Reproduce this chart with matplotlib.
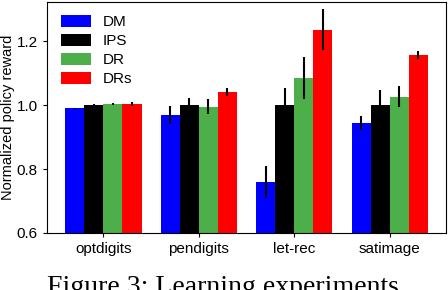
import numpy as np
import matplotlib.pyplot as plt

plt.rcParams['font.family'] = ['Liberation Sans', 'DejaVu Sans']

datasets = ['optdigits', 'pendigits', 'let-rec', 'satimage']
methods = ['DM', 'IPS', 'DR', 'DRs']
colors = ['#0000ff', '#000000', '#4daf4a', '#ff0000']

# mean normalized reward per method (rows) and dataset (cols)
means = [
    [0.990, 0.970, 0.760, 0.944],   # DM
    [1.000, 1.000, 1.000, 1.000],   # IPS
    [1.003, 0.996, 1.086, 1.027],   # DR
    [1.004, 1.042, 1.237, 1.157],   # DRs
]
errs = [
    [0.002, 0.028, 0.050, 0.022],
    [0.003, 0.022, 0.053, 0.047],
    [0.003, 0.023, 0.065, 0.032],
    [0.005, 0.012, 0.063, 0.012],
]

fig = plt.figure(figsize=(4.48, 2.90), dpi=100)
ax = fig.add_axes([47/448, 57/290, 399/448, 231.5/290])

x = np.arange(len(datasets))
w = 0.2
for i, m in enumerate(methods):
    ax.bar(x + (i - 1.5) * w, means[i], w, color=colors[i], label=m,
           yerr=errs[i], error_kw=dict(ecolor='black', elinewidth=1.5, capsize=0))

ax.set_ylim(0.6, 1.325)
ax.set_yticks([0.6, 0.8, 1.0, 1.2])
ax.set_xticks(x)
ax.set_xticklabels(datasets)
ax.tick_params(labelsize=11, length=3)
ax.set_ylabel('Normalized policy reward', fontsize=10.5, labelpad=1)
ax.legend(loc='upper left', frameon=False, fontsize=11, handlelength=2.0,
          handleheight=0.75, labelspacing=0.33, handletextpad=0.75,
          borderaxespad=0.5)

# caption sits at the bottom edge, partly cut off as in the source crop
fig.text(47/448, 15/290, 'Figure 3: Learning experiments', family='Liberation Serif',
         fontsize=20, va='top', ha='left')

fig.savefig('out.png', dpi=100)
